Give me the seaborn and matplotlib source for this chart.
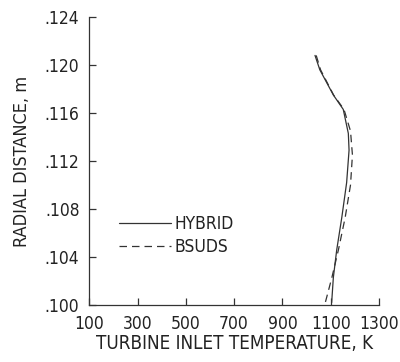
import matplotlib
matplotlib.use("Agg")
import matplotlib.pyplot as plt
import seaborn as sns
import pandas as pd

sns.set_style("ticks")
plt.rcParams['font.family'] = ['DejaVu Sans']
plt.rcParams['font.stretch'] = 'condensed'

hybrid_r = [0.1208, 0.1196, 0.1175, 0.1163, 0.1143, 0.1129, 0.1102, 0.1073, 0.1046, 0.1023, 0.1002]
hybrid_t = [1035, 1055, 1111, 1152, 1173, 1176, 1166, 1146, 1125, 1111, 1104]
bsuds_r = [0.1208, 0.1196, 0.1175, 0.1163, 0.1145, 0.1125, 0.1100, 0.1073, 0.1046, 0.1023, 0.1000]
bsuds_t = [1040, 1058, 1112, 1155, 1182, 1190, 1182, 1160, 1132, 1105, 1075]
x_ticks = [100, 300, 500, 700, 900, 1100, 1300]
y_ticks = [0.100, 0.104, 0.108, 0.112, 0.116, 0.120, 0.124]

df = pd.concat([
    pd.DataFrame({"T": hybrid_t, "r": hybrid_r, "model": "HYBRID"}),
    pd.DataFrame({"T": bsuds_t, "r": bsuds_r, "model": "BSUDS"}),
])

fig = plt.figure(figsize=(4.0, 3.62), dpi=100)
ax = fig.add_axes([0.223, 0.1575, 0.7245, 0.7955])
sns.lineplot(data=df, x="T", y="r", style="model", sort=False, estimator=None,
             color="#333333", linewidth=0.9, ax=ax,
             dashes={"HYBRID": "", "BSUDS": (6, 4)}, legend=True)

ax.set_xlim(100, 1300)
ax.set_ylim(0.100, 0.124)
ax.set_xticks(x_ticks)
ax.set_yticks(y_ticks)
ax.set_yticklabels(["." + f"{v:.3f}".split(".")[1] for v in y_ticks])
ax.tick_params(direction="in", length=5, width=0.9, color="#333333",
               labelsize=12.5, labelcolor="#222222")
ax.tick_params(axis="x", pad=7)
ax.tick_params(axis="y", pad=7)
for s in ["top", "right"]:
    ax.spines[s].set_visible(False)
for s in ["left", "bottom"]:
    ax.spines[s].set_color("#333333")
    ax.spines[s].set_linewidth(0.9)
ax.set_xlabel("TURBINE INLET TEMPERATURE, K", fontsize=13.5, color="#222222", labelpad=1)
ax.set_ylabel("RADIAL DISTANCE, m", fontsize=13, color="#222222", labelpad=10)

leg = ax.legend(frameon=False, loc="center left", bbox_to_anchor=(0.05, 0.24),
                handlelength=3.0, handletextpad=0.2, fontsize=12.5, labelspacing=0.3)
for t in leg.get_texts():
    t.set_color("#222222")

fig.savefig("out.png", dpi=100)
